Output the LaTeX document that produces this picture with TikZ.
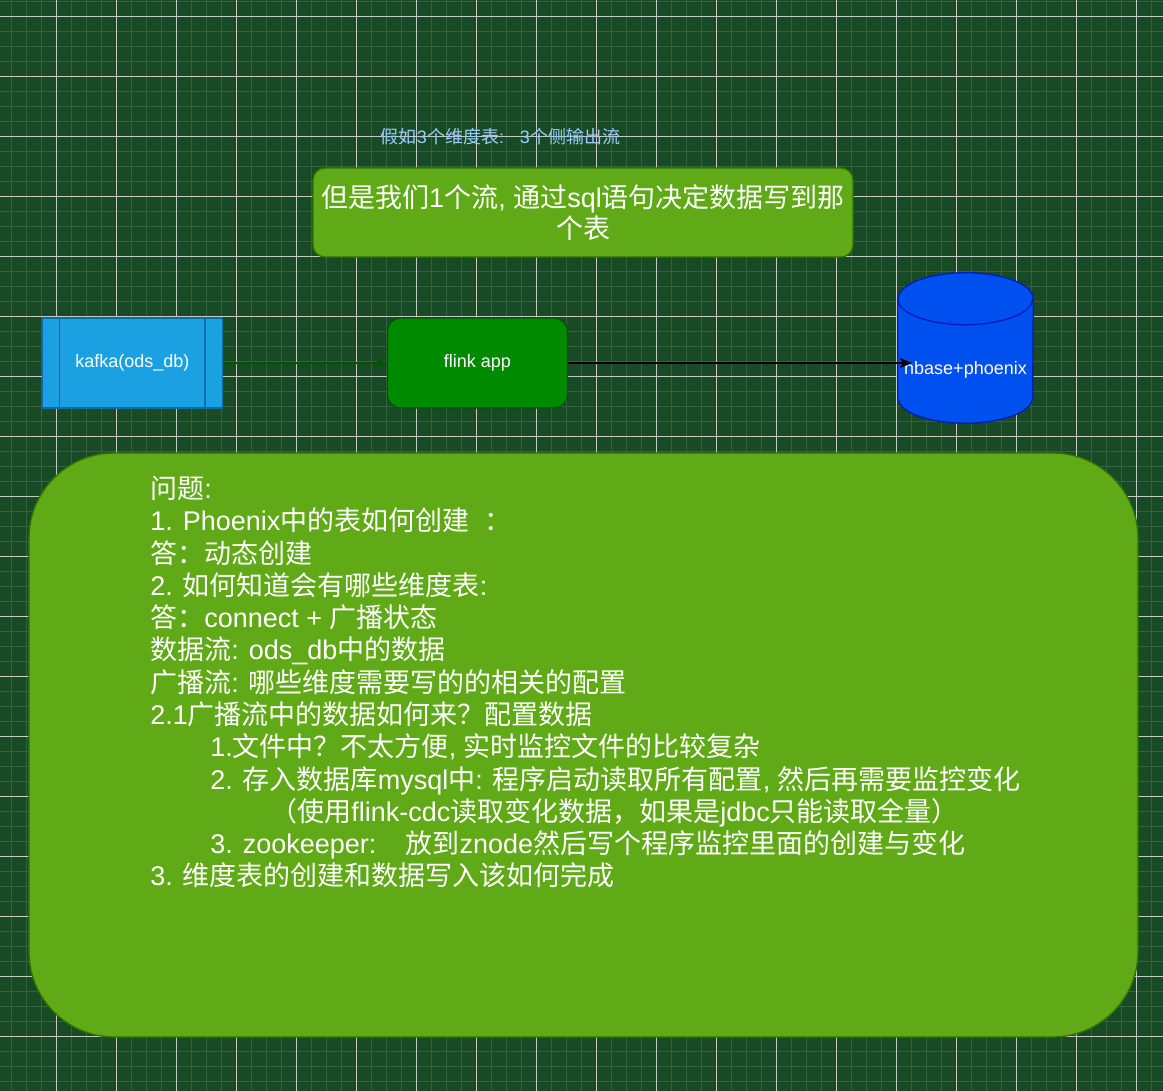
\documentclass[tikz,border=0pt]{standalone}
\usepackage{fontspec}
\usetikzlibrary{arrows.meta}
\setmainfont{Liberation Sans}
\newfontfamily\cjk{Noto Sans CJK SC}
\newfontfamily\lat{Liberation Sans}
\newXeTeXintercharclass\cjkcls
\newcount\cjkc
\def\setcjk#1#2{\cjkc=#1 \loop\XeTeXcharclass\cjkc=\cjkcls \advance\cjkc by 1 \ifnum\cjkc<#2 \repeat}
\setcjk{"3000}{"3040}
\setcjk{"4E00}{"A000}
\setcjk{"FF00}{"FFF0}
\def\cjkpair#1{\XeTeXinterchartoks #1 \cjkcls = {\cjk}\XeTeXinterchartoks \cjkcls #1 = {\lat}}
\cjkpair{0}\cjkpair{4095}
\XeTeXinterchartokenstate=1
\definecolor{bg}{HTML}{184A26}
\definecolor{gridminor}{HTML}{38623F}
\definecolor{gridmajor}{HTML}{C8C8C8}
\definecolor{leaf}{HTML}{60A917}
\definecolor{leafline}{HTML}{2D7600}
\definecolor{flinkfill}{HTML}{008A00}
\definecolor{flinkline}{HTML}{005700}
\definecolor{kafkafill}{HTML}{1BA1E2}
\definecolor{kafkaline}{HTML}{006EAF}
\definecolor{dbfill}{HTML}{0050EF}
\definecolor{dbline}{HTML}{001DBC}
\definecolor{notecol}{HTML}{99CCFF}
\begin{document}
\begin{tikzpicture}[x=0.75pt, y=-0.75pt, node distance={258.8pt},
  >={Stealth[length=9pt,width=7.5pt,inset=2pt]},
  minor/.style = {draw=gridminor, line width=1pt},
  major/.style = {draw=gridmajor, line width=0.5pt},
  proc/.style = {draw=kafkaline, fill=kafkafill, line width=1pt, minimum width=135pt, minimum height=67.5pt, text=white, font=\fontsize{13.5pt}{16pt}\selectfont},
  app/.style = {draw=flinkline, fill=flinkfill, line width=1pt, rounded corners=10pt, minimum width=135pt, minimum height=67.5pt, text=white, font=\fontsize{13.5pt}{16pt}\selectfont},
  db/.style = {minimum width=101.25pt, minimum height=112.5pt, inner sep=0pt},
  dbtext/.style = {text=white, inner sep=0pt, font=\fontsize{13.5pt}{16pt}\selectfont},
  note/.style = {text=notecol, font=\fontsize{13.5pt}{16pt}\selectfont},
  sqlbox/.style = {draw=leafline, fill=leaf, line width=1pt, rounded corners=9pt, minimum width=405pt, minimum height=66.75pt, text=white, align=center, font=\fontsize{20.25pt}{23.5pt}\selectfont},
  bigbox/.style = {draw=leafline, fill=leaf, line width=1pt, rounded corners=64pt, minimum width=831.75pt, minimum height=438pt},
  qtext/.style = {text=white, align=left, inner sep=0pt, font=\fontsize{20.25pt}{24.2pt}\selectfont}]
\useasboundingbox (0,0) rectangle (1163,1091);
\fill[bg] (0,0) rectangle (1163,1091);
\foreach \x in {11.3,26.3,...,1163} \draw[minor] (\x,0) -- (\x,1091);
\foreach \y in {1.3,16.3,...,1091} \draw[minor] (0,\y) -- (1163,\y);
\foreach \x in {56.3,116.3,...,1163} \draw[major] (\x,0) -- (\x,1091);
\foreach \y in {16.3,76.3,...,1091} \draw[major] (0,\y) -- (1163,\y);

\node[note] (note) at (500.5,137) {假如3个维度表:\hspace{12pt}3个侧输出流};
\node[sqlbox] (sql) at (583,212.5) {但是我们1个流, 通过sql语句决定数据写到那\\个表};

\node[proc] (kafka) at (132.4,363) {kafka(ods\_db)};
\draw[kafkaline, line width=1pt] ([xshift=13.5pt]kafka.north west) -- ([xshift=13.5pt]kafka.south west);
\draw[kafkaline, line width=1pt] ([xshift=-13.5pt]kafka.north east) -- ([xshift=-13.5pt]kafka.south east);
\node[app] (flink) [right of=kafka] {flink app};

\node[db] (db) at (965.5,348) {};
\filldraw[fill=dbfill, draw=dbline, line width=1pt] ([yshift=-19.5pt]db.north west) -- ([yshift=19.5pt]db.south west)
  arc[start angle=180, end angle=360, x radius=50.625pt, y radius=19.5pt] -- ([yshift=-19.5pt]db.north east)
  arc[start angle=0, end angle=180, x radius=50.625pt, y radius=19.5pt] -- cycle;
\draw[dbline, line width=1pt] ([yshift=-19.5pt]db.north west) arc[start angle=180, end angle=360, x radius=50.625pt, y radius=19.5pt];
\node[dbtext] (dbt) at (965.5,370) {hbase+phoenix};
\coordinate (dbin) at (912,363);

\node[bigbox] (qbox) at (583.5,745) {};
\node[qtext, anchor=north west] (q) at (150,476) {问题:\\
1. Phoenix中的表如何创建\ \ ：\\
答：动态创建\\
2. 如何知道会有哪些维度表:\\
答：connect + 广播状态\\
数据流: ods\_db中的数据\\
广播流: 哪些维度需要写的的相关的配置\\
2.1广播流中的数据如何来？配置数据\\
\hspace*{45pt}1.文件中？不太方便, 实时监控文件的比较复杂\\
\hspace*{45pt}2. 存入数据库mysql中: 程序启动读取所有配置, 然后再需要监控变化\\
\hspace*{90pt}（使用flink-cdc读取变化数据，如果是jdbc只能读取全量）\\
\hspace*{45pt}3. zookeeper:\hspace{22pt}放到znode然后写个程序监控里面的创建与变化\\
3. 维度表的创建和数据写入该如何完成};

\draw[->, flinkline, line width=1.1pt] (kafka) -- (flink);
\draw[->, line width=1.1pt] (flink.east) -- (dbin);
\end{tikzpicture}
\end{document}
